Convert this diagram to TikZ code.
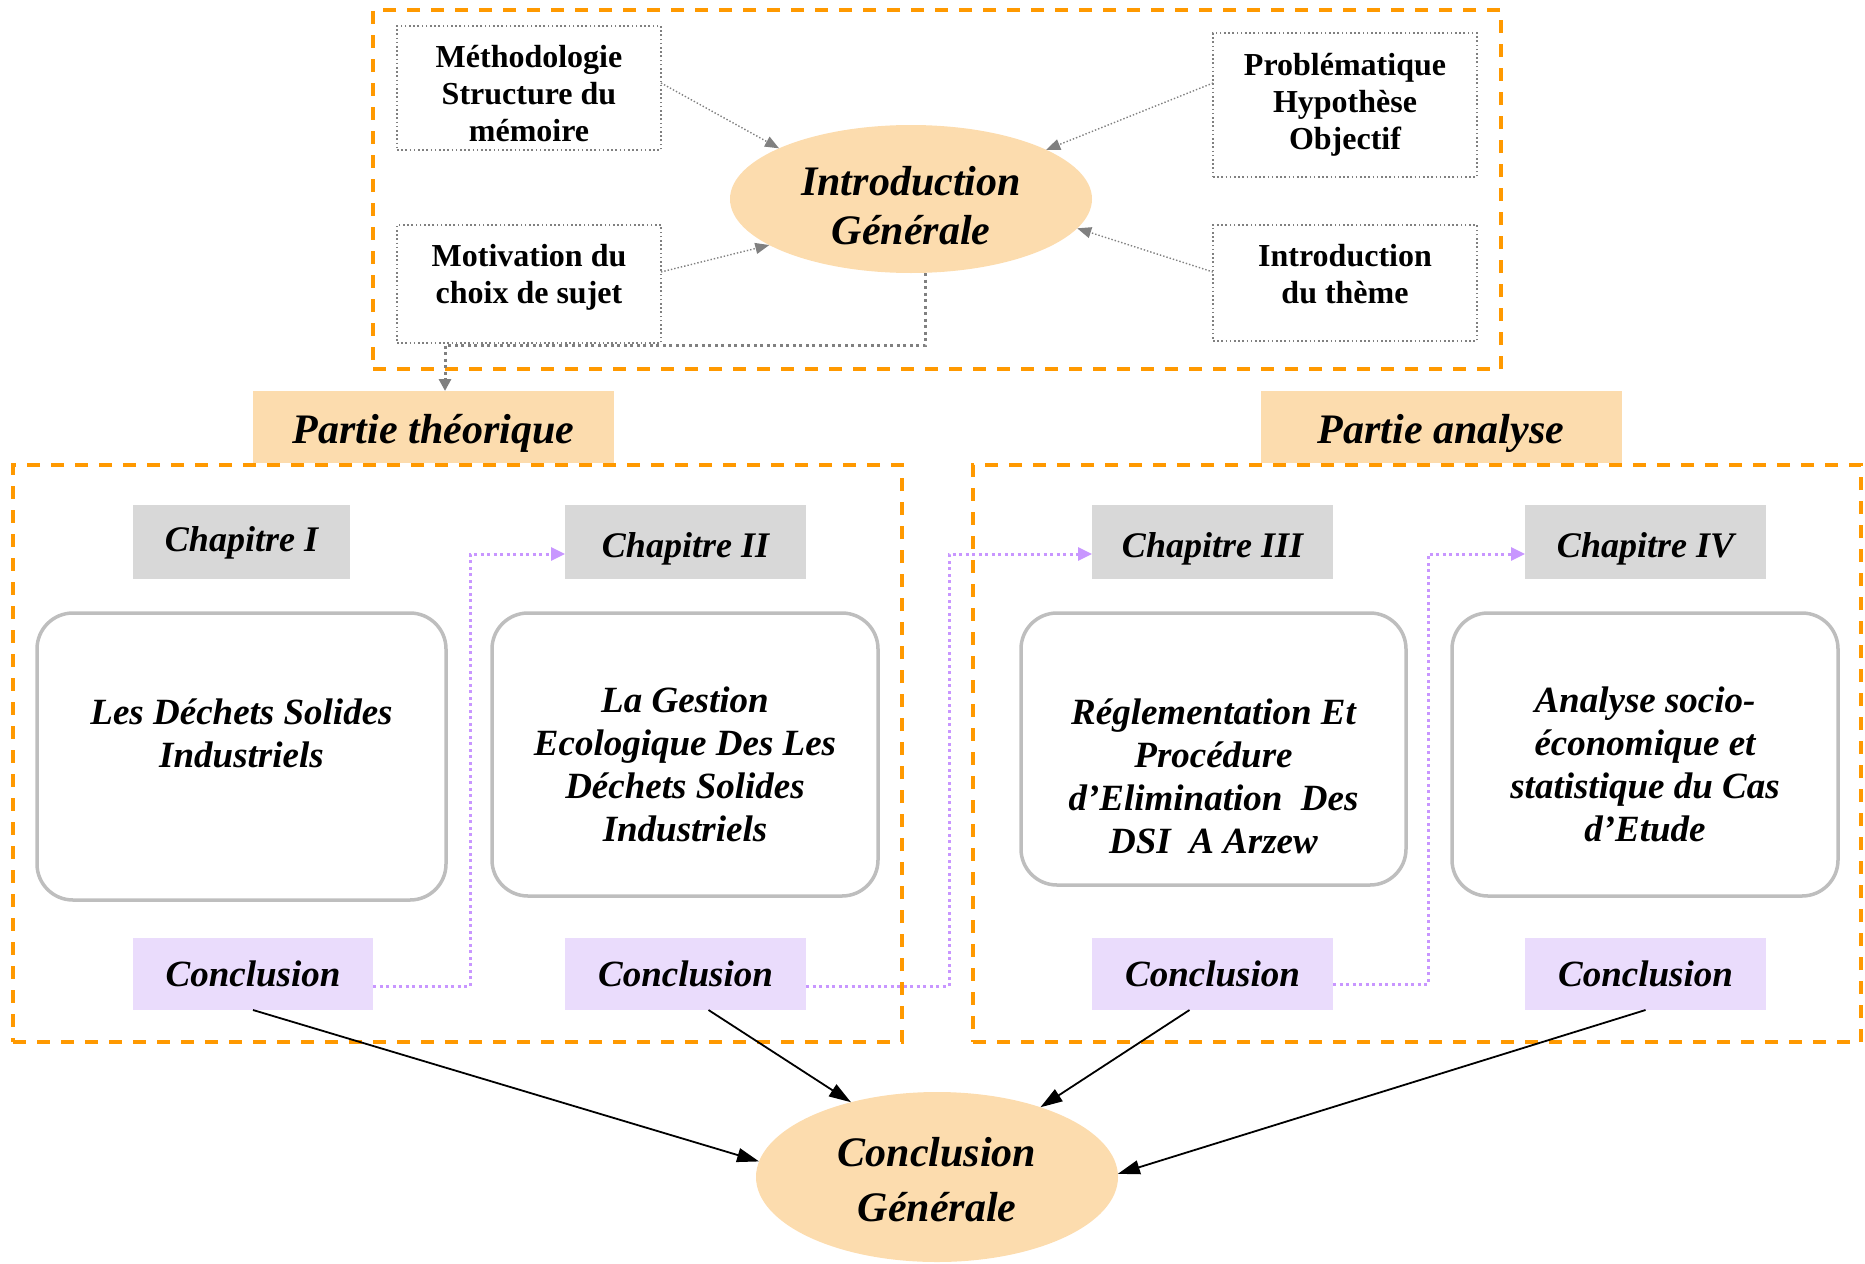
\documentclass[tikz,border=0pt]{standalone}
\usepackage{fontspec}
\setmainfont{Liberation Serif}
\usetikzlibrary{arrows.meta,shapes.geometric}

\definecolor{frameorange}{RGB}{255,153,0}
\definecolor{warmfill}{RGB}{252,220,174}
\definecolor{chapgray}{RGB}{216,216,216}
\definecolor{lilacfill}{RGB}{234,220,252}
\definecolor{lilacline}{RGB}{200,150,255}
\definecolor{dotgray}{RGB}{128,128,128}
\definecolor{roundgray}{RGB}{190,190,190}

\begin{document}
\begin{tikzpicture}[x=1pt,y=-1pt,
  every node/.style={outer sep=0pt, inner sep=0pt, align=center},
  frame/.style={draw=frameorange, line width=3.5pt, dash pattern=on 13pt off 11pt},
  dotbox/.style={draw=dotgray, line width=1.6pt, dash pattern=on 1.6pt off 2.6pt},
  toptext/.style={font=\fontsize{32}{37}\selectfont\bfseries},
  bigtext/.style={font=\fontsize{42}{49}\selectfont\bfseries\itshape},
  blob/.style={ellipse, fill=warmfill},
  partlabel/.style={rectangle, fill=warmfill, minimum width=361pt, minimum height=72pt},
  chapbox/.style={rectangle, fill=chapgray, minimum height=74pt},
  chaptext/.style={font=\fontsize{36}{43}\selectfont\bfseries\itshape},
  concbox/.style={rectangle, fill=lilacfill, minimum width=241pt, minimum height=72pt},
  conctext/.style={font=\fontsize{37}{43}\selectfont\bfseries\itshape},
  roundbox/.style={rectangle, draw=roundgray, line width=3.5pt, rounded corners=36pt},
  bodytext/.style={font=\fontsize{37}{43}\selectfont\bfseries\itshape},
  grayarrow/.style={draw=dotgray, line width=1.4pt, dash pattern=on 1.4pt off 2pt,
    -{Triangle[length=14pt,width=11pt]}},
  graypath/.style={draw=dotgray, line width=3pt, dash pattern=on 3pt off 3.5pt,
    -{Triangle[length=12pt,width=12pt]}},
  lilacarrow/.style={draw=lilacline, line width=3pt, dash pattern=on 3pt off 3.5pt,
    -{Triangle[length=14pt,width=13pt]}},
  blackarrow/.style={draw=black, line width=1.8pt, -{Triangle[length=22pt,width=14pt]}}
]
\useasboundingbox (0,0) rectangle (1865,1263);

% ---- Introduction block ----
\node[frame, minimum width=1128pt, minimum height=359pt] (introframe) at (937,189.5) {};

\node[dotbox, minimum width=264pt, minimum height=124pt] (meth) at (529,88) {};
\node[toptext] (methtxt) at (529,94) {Méthodologie\\Structure du\\mémoire};
\node[dotbox, minimum width=264pt, minimum height=118pt] (motiv) at (529,284) {};
\node[toptext] (motivtxt) at (529,277) {Motivation du\\choix de sujet};
\node[dotbox, toptext, minimum width=264pt, minimum height=144pt] (prob) at (1345,105)
  {Problématique\\Hypothèse\\Objectif};
\node[dotbox, minimum width=264pt, minimum height=116pt] (theme) at (1345,283) {};
\node[toptext] (themetxt) at (1345,274) {Introduction\\du thème};

\node[blob, minimum width=362pt, minimum height=148pt] (introG) at (911,199) {};
\node[bigtext] (introGtxt) at (911,206) {Introduction\\Générale};

\draw[grayarrow] ([yshift=5pt]meth.east) -- (introG.159);
\draw[grayarrow] ([yshift=22pt]prob.west) -- (introG.20);
\draw[grayarrow] ([yshift=12pt]motiv.east) -- (introG.198);
\draw[grayarrow] ([yshift=11pt]theme.west) -- (introG.350);

% ---- Part labels ----
\node[partlabel] (ptheo) at (433.5,427) {};
\node[bigtext] (ptheotxt) at (433.5,433) {Partie théorique};
\node[partlabel] (pana) at (1441,427) {};
\node[bigtext] (panatxt) at (1441,433) {Partie analyse};

\coordinate (turn) at (445,345);
\draw[graypath] ([xshift=14pt]introG.south) |- (turn) -- ([xshift=11.5pt]ptheo.north);

% ---- Part frames ----
\node[frame, minimum width=889pt, minimum height=577pt] (leftframe) at (457.5,753.5) {};
\node[frame, minimum width=888pt, minimum height=577pt] (rightframe) at (1417,753.5) {};

% ---- Chapter headings ----
\node[chapbox, minimum width=217pt] (ch1) at (241.5,542) {};
\node[chaptext] (ch1txt) at (241.5,543) {Chapitre I};
\node[chapbox, minimum width=241pt] (ch2) at (685.5,542) {};
\node[chaptext] (ch2txt) at (685.5,549) {Chapitre II};
\node[chapbox, minimum width=241pt] (ch3) at (1212.5,542) {};
\node[chaptext] (ch3txt) at (1212.5,549) {Chapitre III};
\node[chapbox, minimum width=241pt] (ch4) at (1645.5,542) {};
\node[chaptext] (ch4txt) at (1645.5,549) {Chapitre IV};

% ---- Chapter contents ----
\node[roundbox, minimum width=409pt, minimum height=287pt] (b1) at (241.5,756.5) {};
\node[bodytext] (b1txt) at (241.5,733) {Les Déchets Solides\\Industriels};
\node[roundbox, minimum width=386pt, minimum height=283pt] (b2) at (685,754.5) {};
\node[bodytext] (b2txt) at (685,764) {La Gestion\\Ecologique Des Les\\Déchets Solides\\Industriels};
\node[roundbox, minimum width=385pt, minimum height=272pt] (b3) at (1213.5,749) {};
\node[bodytext] (b3txt) at (1213.5,776) {Réglementation Et\\Procédure\\d’Elimination~~Des\\DSI~~A Arzew};
\node[roundbox, minimum width=386pt, minimum height=283pt] (b4) at (1645,754.5) {};
\node[bodytext] (b4txt) at (1645,764) {Analyse socio-\\économique et\\statistique du Cas\\d’Etude};

% ---- Chapter conclusions ----
\node[concbox, minimum width=240pt] (c1) at (253,974) {};
\node[conctext] (c1txt) at (253,974) {Conclusion};
\node[concbox] (c2) at (685.5,974) {};
\node[conctext] (c2txt) at (685.5,974) {Conclusion};
\node[concbox] (c3) at (1212.5,974) {};
\node[conctext] (c3txt) at (1212.5,974) {Conclusion};
\node[concbox] (c4) at (1645.5,974) {};
\node[conctext] (c4txt) at (1645.5,974) {Conclusion};

\draw[lilacarrow] ([yshift=-12pt]c1.east) -- ++(97,0) |- ([yshift=-12pt]ch2.west);
\draw[lilacarrow] ([yshift=-12pt]c2.east) -- ++(143,0) |- ([yshift=-12pt]ch3.west);
\draw[lilacarrow] ([yshift=-10pt]c3.east) -- ++(95,0) |- ([yshift=-12pt]ch4.west);

% ---- General conclusion ----
\node[blob, minimum width=362pt, minimum height=170pt] (conclG) at (937,1177) {};
\node[font=\fontsize{42}{55}\selectfont\bfseries\itshape] (conclGtxt) at (937,1180)
  {Conclusion\\Générale};

\draw[blackarrow] (c1.south) -- (conclG.175);
\draw[blackarrow] ([xshift=23pt]c2.south) -- (conclG.139);
\draw[blackarrow] ([xshift=-23pt]c3.south) -- (conclG.34);
\draw[blackarrow] (c4.south) -- (conclG.1);
\end{tikzpicture}
\end{document}
